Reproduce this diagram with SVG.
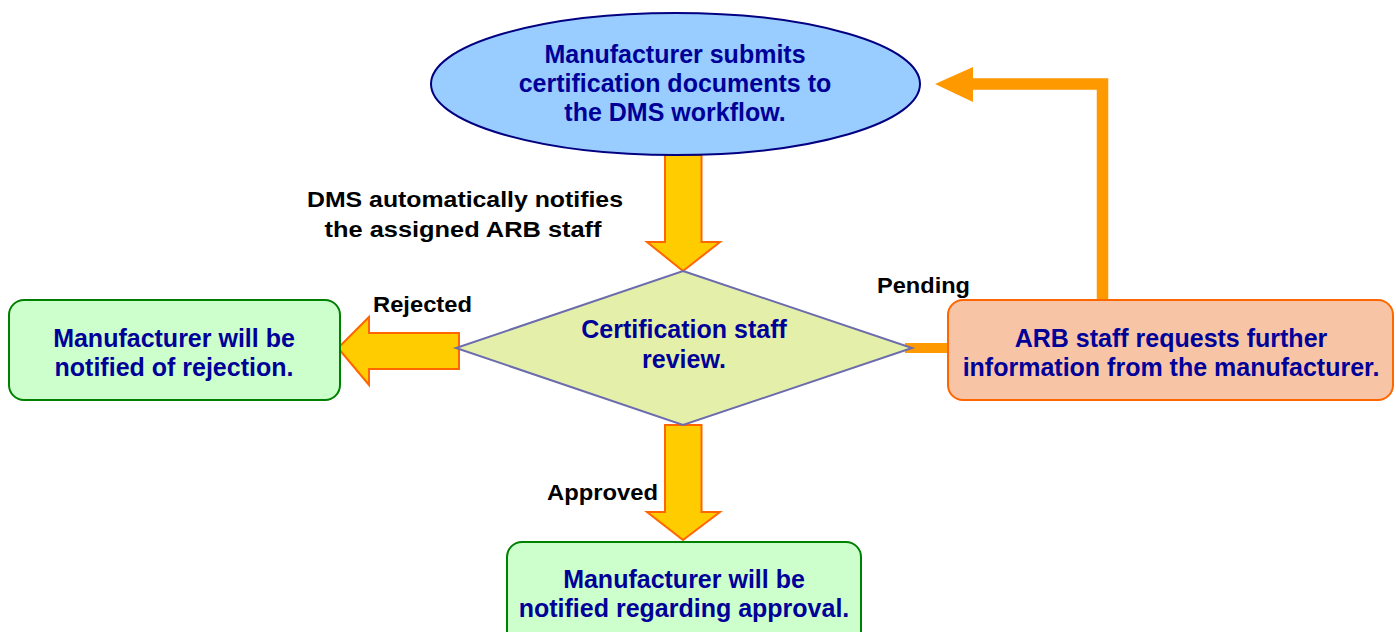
<svg xmlns="http://www.w3.org/2000/svg" width="1396" height="632" viewBox="0 0 1396 632">
  <style>
    .node-text { font-family: "Liberation Sans", Arial, sans-serif; font-weight: bold; font-size: 25px; fill: #000099; text-anchor: middle; }
    .label { font-family: "Liberation Sans", Arial, sans-serif; font-weight: bold; font-size: 22px; fill: #000000; text-anchor: middle; }
    .block-arrow { fill: #FFCC00; stroke: #FF6600; stroke-width: 2; stroke-linejoin: miter; }
    .green-box { fill: #CCFFCC; stroke: #008000; stroke-width: 2; }
    .loop { fill: none; stroke: #FF9900; stroke-width: 11.5; stroke-linejoin: miter; }
  </style>
  <rect width="1396" height="632" fill="#FFFFFF"/>

  <!-- connectors -->
  <g id="connectors">
    <!-- submit -> review -->
    <polygon class="block-arrow" points="665,155 701.5,155 701.5,242 720,242 683,271 647,242 665,242"/>
    <!-- review -> rejected -->
    <polygon class="block-arrow" points="459,333 459,369 369,369 369,385 338,348 369,317 369,333"/>
    <!-- review -> approved -->
    <polygon class="block-arrow" points="665,425 701.5,425 701.5,512 720,512 683,540 647,512 665,512"/>
    <!-- review -> pending request -->
    <line x1="905" y1="348" x2="949" y2="348" stroke="#FF9900" stroke-width="10"/>
    <!-- pending request -> resubmission -->
    <polyline class="loop" points="1102.5,301 1102.5,84 970,84"/>
    <polygon points="935,84 973,67 973,102" fill="#FF9900"/>
  </g>

  <g id="labels">
    <text class="label" textLength="316" lengthAdjust="spacingAndGlyphs" x="465" y="207">DMS automatically notifies</text>
    <text class="label" textLength="277" lengthAdjust="spacingAndGlyphs" x="463" y="237">the assigned ARB staff</text>
    <text class="label" textLength="99" lengthAdjust="spacingAndGlyphs" x="422.5" y="312">Rejected</text>
    <text class="label" textLength="93" lengthAdjust="spacingAndGlyphs" x="923.5" y="293">Pending</text>
    <text class="label" textLength="111" lengthAdjust="spacingAndGlyphs" x="602.5" y="500">Approved</text>
  </g>

  <g id="submit">
    <ellipse cx="675.5" cy="84" rx="244.5" ry="71" fill="#99CCFF" stroke="#000080" stroke-width="2"/>
    <text class="node-text" x="675" y="63">Manufacturer submits</text>
    <text class="node-text" x="675" y="92">certification documents to</text>
    <text class="node-text" x="675" y="121">the DMS workflow.</text>
  </g>

  <g id="review">
    <polygon points="683,271 912,348 683,425 456,348" fill="#E4F0A9" stroke="#6B6BAE" stroke-width="2"/>
    <text class="node-text" x="684" y="338">Certification staff</text>
    <text class="node-text" x="684" y="368">review.</text>
  </g>

  <g id="rejected">
    <rect class="green-box" x="9" y="300" width="331" height="100" rx="15" ry="15"/>
    <text class="node-text" x="174" y="347">Manufacturer will be</text>
    <text class="node-text" x="174" y="376">notified of rejection.</text>
  </g>

  <g id="approved">
    <rect class="green-box" x="507" y="542" width="354" height="104" rx="15" ry="15"/>
    <text class="node-text" x="684" y="588">Manufacturer will be</text>
    <text class="node-text" x="684" y="617">notified regarding approval.</text>
  </g>

  <g id="pending">
    <rect x="948" y="300" width="445" height="100" rx="15" ry="15" fill="#F8C4A6" stroke="#FF6600" stroke-width="2"/>
    <text class="node-text" x="1171" y="347">ARB staff requests further</text>
    <text class="node-text" x="1171" y="376">information from the manufacturer.</text>
  </g>
</svg>
